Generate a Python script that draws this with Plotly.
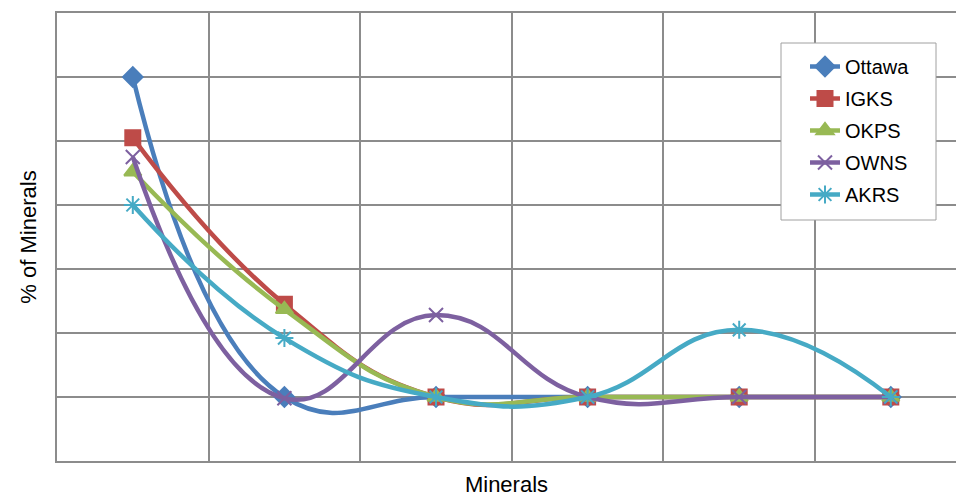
import plotly.graph_objects as go

# Six mineral categories along the x axis (unlabelled), percentage on y
mineral_index = [0, 1, 2, 3, 4, 5]

ottawa = [60, 10, 10, 10, 10, 10]
igks = [50.5, 24.5, 10, 10, 10, 10]
okps = [45.2, 23.7, 10, 10, 10, 10]
owns = [47.5, 9.8, 22.8, 10, 10, 10]
akrs = [40, 19.2, 10, 10, 20.5, 10]

series = [
    ("Ottawa", ottawa, "#4A7EBB", "diamond", 15),
    ("IGKS", igks, "#BE4B48", "square", 15),
    ("OKPS", okps, "#98B954", "triangle-up", 15),
    ("OWNS", owns, "#7D60A0", "x-thin-open", 14),
    ("AKRS", akrs, "#46AAC5", "asterisk-open", 15),
]

fig = go.Figure()
for name, values, color, symbol, size in series:
    fig.add_trace(go.Scatter(
        x=mineral_index,
        y=values,
        name=name,
        legendgroup=name,
        mode="lines+markers",
        line=dict(color=color, width=4.5, shape="spline", smoothing=1.3),
        marker=dict(symbol=symbol, size=size, color=color,
                    line=dict(color=color, width=2)),
    ))

grid_color = "#8C8C8C"

# pixel helpers for the legend frame (plot area spans x 57..956, y 13..461)
def px_x(p):
    return (p - 57) / 899.0


def px_y(p):
    return (461 - p) / 448.0


# legend frame
fig.add_shape(
    type="rect", xref="paper", yref="paper",
    x0=px_x(781), x1=px_x(936), y0=px_y(220), y1=px_y(43),
    line=dict(color="#A0A0A0", width=1),
    fillcolor="white",
    layer="above",
)

fig.update_layout(
    width=956,
    height=497,
    margin=dict(l=57, r=0, t=13, b=36),
    paper_bgcolor="white",
    plot_bgcolor="white",
    font=dict(family="Liberation Sans, Arial, sans-serif", color="#000000"),
    showlegend=True,
    legend=dict(
        x=px_x(805), y=px_y(47), xanchor="left", yanchor="top",
        bgcolor="rgba(0,0,0,0)",
        borderwidth=0,
        font=dict(size=20),
        tracegroupgap=3,
    ),
    xaxis=dict(
        range=[-0.5, 5.43],
        tickvals=[0.5, 1.5, 2.5, 3.5, 4.5],
        showticklabels=False,
        ticks="",
        showgrid=True,
        gridcolor=grid_color,
        gridwidth=1.5,
        zeroline=False,
        showline=True,
        linecolor=grid_color,
        linewidth=1.5,
        mirror=True,
        title=dict(text="Minerals", font=dict(size=22), standoff=17),
    ),
    yaxis=dict(
        range=[0, 70],
        dtick=10,
        showticklabels=False,
        ticks="",
        showgrid=True,
        gridcolor=grid_color,
        gridwidth=1.5,
        zeroline=False,
        showline=True,
        linecolor=grid_color,
        linewidth=1.5,
        title=dict(text="% of Minerals", font=dict(size=22), standoff=13),
    ),
)

fig.write_html("out.html")
